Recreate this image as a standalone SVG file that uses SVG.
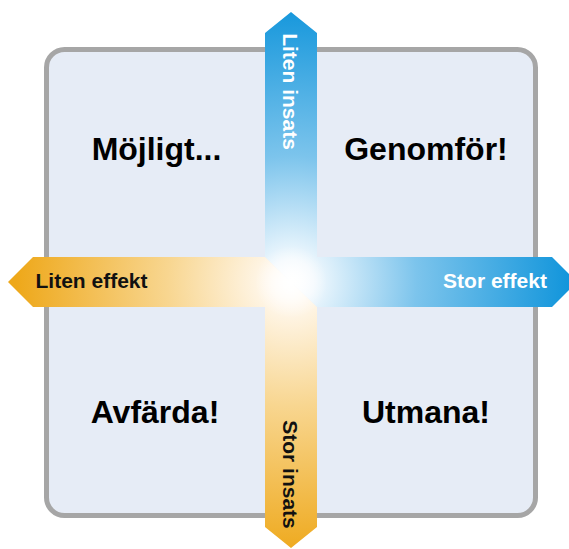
<svg xmlns="http://www.w3.org/2000/svg" width="569" height="549" viewBox="0 0 569 549">
  <defs>
    <radialGradient id="gBlue" gradientUnits="userSpaceOnUse" cx="291" cy="282" r="280">
      <stop offset="0" stop-color="#ffffff"/>
      <stop offset="0.08" stop-color="#f2f9fe"/>
      <stop offset="0.45" stop-color="#7cc4ec"/>
      <stop offset="1" stop-color="#1195db"/>
    </radialGradient>
    <radialGradient id="gOrange" gradientUnits="userSpaceOnUse" cx="291" cy="282" r="275">
      <stop offset="0" stop-color="#ffffff"/>
      <stop offset="0.08" stop-color="#fff8ee"/>
      <stop offset="0.45" stop-color="#f8d690"/>
      <stop offset="1" stop-color="#eea81a"/>
    </radialGradient>
    <radialGradient id="gGlow" gradientUnits="userSpaceOnUse" cx="291" cy="282" r="36">
      <stop offset="0" stop-color="#ffffff" stop-opacity="1"/>
      <stop offset="1" stop-color="#ffffff" stop-opacity="0"/>
    </radialGradient>
  </defs>
  <style>
    .quad { font-family: "Liberation Sans", Arial, sans-serif; font-weight: bold; font-size: 32px; fill: #000; text-anchor: middle; }
    .lbl { font-family: "Liberation Sans", Arial, sans-serif; font-weight: bold; font-size: 21px; text-anchor: middle; }
    .w { fill: #ffffff; }
    .k { fill: #111111; }
  </style>
  <g id="frame">
    <rect x="46.5" y="49.5" width="489" height="466" rx="18" ry="18" fill="#e6ecf6" stroke="#a6a6a6" stroke-width="5"/>
  </g>
  <g id="connectors">
    <g id="axis-blue">
      <polygon points="291,12 317,33 317,257 552,257 577,282 552,307 317,307 265,257 265,33" fill="url(#gBlue)"/>
    </g>
    <g id="axis-orange">
      <polygon points="8,282 33,257 265,257 317,307 317,527 291,548 265,527 265,307 33,307" fill="url(#gOrange)"/>
    </g>
    <circle cx="291" cy="282" r="36" fill="url(#gGlow)"/>
  </g>
  <g id="label-liten-insats">
    <text class="lbl w" transform="translate(283,91.5) rotate(90)">Liten insats</text>
  </g>
  <g id="label-stor-insats">
    <text class="lbl k" transform="translate(283,474.5) rotate(90)">Stor insats</text>
  </g>
  <g id="label-liten-effekt">
    <text class="lbl k" x="91.5" y="288">Liten effekt</text>
  </g>
  <g id="label-stor-effekt">
    <text class="lbl w" x="495" y="288">Stor effekt</text>
  </g>
  <g id="q-mojligt">
    <text class="quad" x="156.5" y="160">Möjligt...</text>
  </g>
  <g id="q-genomfor">
    <text class="quad" x="426" y="160">Genomför!</text>
  </g>
  <g id="q-avfarda">
    <text class="quad" x="155" y="423">Avfärda!</text>
  </g>
  <g id="q-utmana">
    <text class="quad" x="426" y="423">Utmana!</text>
  </g>
</svg>
